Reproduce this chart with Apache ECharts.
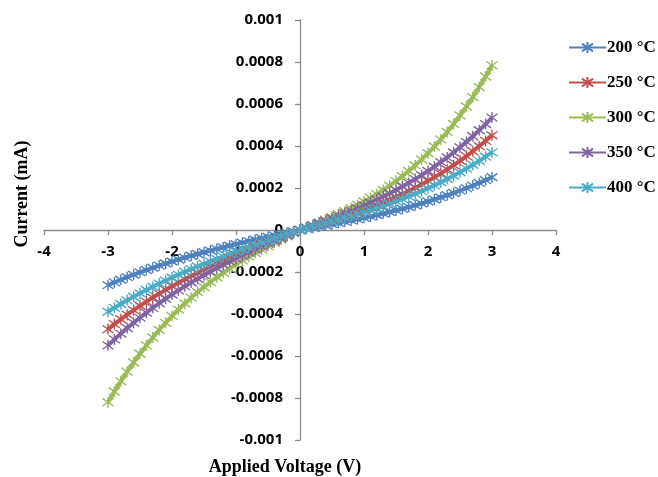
<!DOCTYPE html>
<html>
<head>
<meta charset="utf-8">
<script src="https://cdn.jsdelivr.net/npm/echarts@6/dist/echarts.min.js"></script>
<style>
  html, body { margin: 0; padding: 0; background: #ffffff; }
  #chart { width: 658px; height: 477px; }
</style>
</head>
<body>
<div id="chart"></div>
<script>
// Applied voltage sweep (V)
const voltage = [
  -3.0, -2.9, -2.8, -2.7, -2.6, -2.5, -2.4, -2.3, -2.2, -2.1,
  -2.0, -1.9, -1.8, -1.7, -1.6, -1.5, -1.4, -1.3, -1.2, -1.1,
  -1.0, -0.9, -0.8, -0.7, -0.6, -0.5, -0.4, -0.3, -0.2, -0.1,
  0.0,
  0.1, 0.2, 0.3, 0.4, 0.5, 0.6, 0.7, 0.8, 0.9, 1.0,
  1.1, 1.2, 1.3, 1.4, 1.5, 1.6, 1.7, 1.8, 1.9, 2.0,
  2.1, 2.2, 2.3, 2.4, 2.5, 2.6, 2.7, 2.8, 2.9, 3.0
];

// Measured current (mA) for each annealing temperature
const current200 = [
  -262.5e-6, -249.5e-6, -236.9e-6, -224.7e-6, -212.9e-6, -201.6e-6, -190.6e-6, -179.9e-6, -169.6e-6, -159.7e-6,
  -150.0e-6, -140.6e-6, -131.6e-6, -122.8e-6, -114.2e-6, -105.9e-6, -97.9e-6, -90.0e-6, -82.3e-6, -74.8e-6,
  -67.5e-6, -60.3e-6, -53.3e-6, -46.4e-6, -39.5e-6, -32.8e-6, -26.2e-6, -19.6e-6, -13.0e-6, -6.5e-6,
  0,
  5.5e-6, 11.0e-6, 16.6e-6, 22.2e-6, 27.9e-6, 33.7e-6, 39.6e-6, 45.6e-6, 51.8e-6, 58.2e-6,
  64.8e-6, 71.5e-6, 78.5e-6, 85.8e-6, 93.3e-6, 101.1e-6, 109.2e-6, 117.7e-6, 126.5e-6, 135.6e-6,
  145.1e-6, 155.1e-6, 165.4e-6, 176.2e-6, 187.5e-6, 199.2e-6, 211.5e-6, 224.2e-6, 237.5e-6, 251.4e-6
];
const current250 = [
  -471.9e-6, -448.1e-6, -425.2e-6, -403.0e-6, -381.6e-6, -360.9e-6, -341.0e-6, -321.7e-6, -303.1e-6, -285.0e-6,
  -267.6e-6, -250.7e-6, -234.4e-6, -218.6e-6, -203.3e-6, -188.4e-6, -173.9e-6, -159.8e-6, -146.1e-6, -132.8e-6,
  -119.7e-6, -106.9e-6, -94.4e-6, -82.1e-6, -70.0e-6, -58.1e-6, -46.3e-6, -34.6e-6, -23.0e-6, -11.5e-6,
  0,
  9.0e-6, 18.1e-6, 27.2e-6, 36.4e-6, 45.8e-6, 55.4e-6, 65.3e-6, 75.4e-6, 85.9e-6, 96.7e-6,
  107.9e-6, 119.6e-6, 131.7e-6, 144.4e-6, 157.6e-6, 171.4e-6, 185.9e-6, 201.1e-6, 217.0e-6, 233.6e-6,
  251.0e-6, 269.3e-6, 288.5e-6, 308.6e-6, 329.7e-6, 351.8e-6, 374.9e-6, 399.1e-6, 424.4e-6, 450.9e-6
];
const current300 = [
  -819.9e-6, -769.1e-6, -720.7e-6, -674.7e-6, -630.8e-6, -589.1e-6, -549.4e-6, -511.7e-6, -475.9e-6, -441.9e-6,
  -409.6e-6, -379.0e-6, -349.9e-6, -322.3e-6, -296.1e-6, -271.2e-6, -247.6e-6, -225.1e-6, -203.7e-6, -183.2e-6,
  -163.7e-6, -145.0e-6, -127.0e-6, -109.7e-6, -93.0e-6, -76.7e-6, -60.9e-6, -45.4e-6, -30.1e-6, -15.0e-6,
  0,
  12.0e-6, 24.1e-6, 36.4e-6, 49.0e-6, 62.0e-6, 75.4e-6, 89.4e-6, 104.0e-6, 119.4e-6, 135.7e-6,
  152.9e-6, 171.1e-6, 190.5e-6, 211.1e-6, 233.0e-6, 256.3e-6, 281.1e-6, 307.6e-6, 335.7e-6, 365.6e-6,
  397.4e-6, 431.2e-6, 467.0e-6, 505.0e-6, 545.3e-6, 587.9e-6, 633.0e-6, 680.6e-6, 730.9e-6, 783.9e-6
];
const current350 = [
  -549.3e-6, -520.9e-6, -493.5e-6, -467.1e-6, -441.7e-6, -417.2e-6, -393.6e-6, -370.8e-6, -348.8e-6, -327.6e-6,
  -307.2e-6, -287.5e-6, -268.4e-6, -250.0e-6, -232.2e-6, -214.9e-6, -198.2e-6, -182.0e-6, -166.2e-6, -150.9e-6,
  -135.9e-6, -121.3e-6, -107.0e-6, -93.0e-6, -79.3e-6, -65.7e-6, -52.4e-6, -39.2e-6, -26.0e-6, -13.0e-6,
  0,
  11.0e-6, 22.1e-6, 33.2e-6, 44.5e-6, 56.0e-6, 67.6e-6, 79.6e-6, 91.9e-6, 104.5e-6, 117.6e-6,
  131.1e-6, 145.1e-6, 159.7e-6, 174.9e-6, 190.7e-6, 207.1e-6, 224.3e-6, 242.3e-6, 261.1e-6, 280.8e-6,
  301.4e-6, 322.9e-6, 345.5e-6, 369.1e-6, 393.8e-6, 419.6e-6, 446.6e-6, 474.8e-6, 504.4e-6, 535.2e-6
];
const current400 = [
  -389.1e-6, -370.5e-6, -352.4e-6, -335.0e-6, -318.0e-6, -301.6e-6, -285.6e-6, -270.2e-6, -255.1e-6, -240.6e-6,
  -226.4e-6, -212.6e-6, -199.2e-6, -186.2e-6, -173.5e-6, -161.1e-6, -149.1e-6, -137.3e-6, -125.7e-6, -114.4e-6,
  -103.3e-6, -92.4e-6, -81.7e-6, -71.1e-6, -60.7e-6, -50.4e-6, -40.2e-6, -30.1e-6, -20.0e-6, -10.0e-6,
  0,
  8.0e-6, 16.0e-6, 24.1e-6, 32.3e-6, 40.6e-6, 49.0e-6, 57.6e-6, 66.5e-6, 75.5e-6, 84.8e-6,
  94.4e-6, 104.3e-6, 114.5e-6, 125.2e-6, 136.2e-6, 147.7e-6, 159.6e-6, 172.0e-6, 184.9e-6, 198.4e-6,
  212.5e-6, 227.1e-6, 242.4e-6, 258.4e-6, 275.0e-6, 292.4e-6, 310.5e-6, 329.4e-6, 349.1e-6, 369.6e-6
];

const seriesNames = ['200 °C', '250 °C', '300 °C', '350 °C', '400 °C'];
const seriesCurrents = [current200, current250, current300, current350, current400];
const seriesColors = ['#4F81BD', '#C0504D', '#9BBB59', '#8064A2', '#4BACC6'];

// Asterisk-style marker: vertical bar plus a cross
const starSymbol = 'path://M5,0 L5,10 M0,1.5 L10,8.5 M0,8.5 L10,1.5';

// Plot box in pixels; the axes cross at the origin, so each axis is
// shifted from its edge of the box to the zero line of the other axis.
const plotLeft = 44, plotRight = 556, plotTop = 20, plotBottom = 440;
const yZeroShift = -(plotBottom - plotTop) / 2;   // x-axis moves up to current = 0
const xZeroShift = -(plotRight - plotLeft) / 2;   // y-axis moves right to voltage = 0

const axisGrey = '#8c8c8c';
const tickFont = { fontFamily: 'Open Sans', fontWeight: 'bold', fontSize: 15, color: '#000000' };

const chart = echarts.init(document.getElementById('chart'), null, { renderer: 'canvas' });

chart.setOption({
  animation: false,
  backgroundColor: '#ffffff',
  grid: {
    left: plotLeft, right: 658 - plotRight, top: plotTop, bottom: 477 - plotBottom,
    containLabel: false,
    outerBoundsMode: 'none'
  },
  xAxis: {
    type: 'value',
    position: 'bottom',
    offset: yZeroShift,
    min: -4, max: 4, interval: 1,
    axisLine: { onZero: false, lineStyle: { color: axisGrey, width: 1.3 } },
    axisTick: { show: true, length: 5, lineStyle: { color: axisGrey, width: 1.3 } },
    axisLabel: Object.assign({ margin: 14 }, tickFont),
    splitLine: { show: false }
  },
  yAxis: {
    type: 'value',
    position: 'left',
    offset: xZeroShift,
    min: -0.001, max: 0.001, interval: 0.0002,
    axisLine: { onZero: false, lineStyle: { color: axisGrey, width: 1.3 } },
    axisTick: { show: true, length: 5, lineStyle: { color: axisGrey, width: 1.3 } },
    axisLabel: Object.assign({
      margin: 17,
      formatter: function (v) {
        const r = Math.round(v * 10000) / 10000;
        return r === 0 ? '0' : String(r);
      }
    }, tickFont),
    splitLine: { show: false }
  },
  legend: {
    orient: 'vertical',
    left: 563,
    top: 34,
    itemWidth: 37,
    itemHeight: 14,
    itemGap: 18,
    textStyle: { fontFamily: 'Liberation Serif', fontWeight: 'bold', fontSize: 17, color: '#000000', padding: [0, 0, 0, -4] },
    data: seriesNames
  },
  graphic: [
    {
      type: 'text',
      x: 22, y: 194,
      rotation: Math.PI / 2,
      style: {
        text: 'Current (mA)',
        font: 'bold 18px "Liberation Serif"',
        fill: '#000000',
        align: 'center',
        verticalAlign: 'middle'
      }
    },
    {
      type: 'text',
      x: 285, y: 467,
      style: {
        text: 'Applied Voltage (V)',
        font: 'bold 18px "Liberation Serif"',
        fill: '#000000',
        align: 'center',
        verticalAlign: 'middle'
      }
    }
  ],
  series: seriesNames.map(function (name, i) {
    return {
      name: name,
      type: 'line',
      data: voltage.map(function (v, j) { return [v, seriesCurrents[i][j]]; }),
      symbol: starSymbol,
      symbolSize: 11,
      showSymbol: true,
      showAllSymbol: true,
      smooth: false,
      color: seriesColors[i],
      lineStyle: { color: seriesColors[i], width: 4 },
      itemStyle: { color: seriesColors[i], borderColor: seriesColors[i], borderWidth: 1.4 }
    };
  })
});
</script>
</body>
</html>
